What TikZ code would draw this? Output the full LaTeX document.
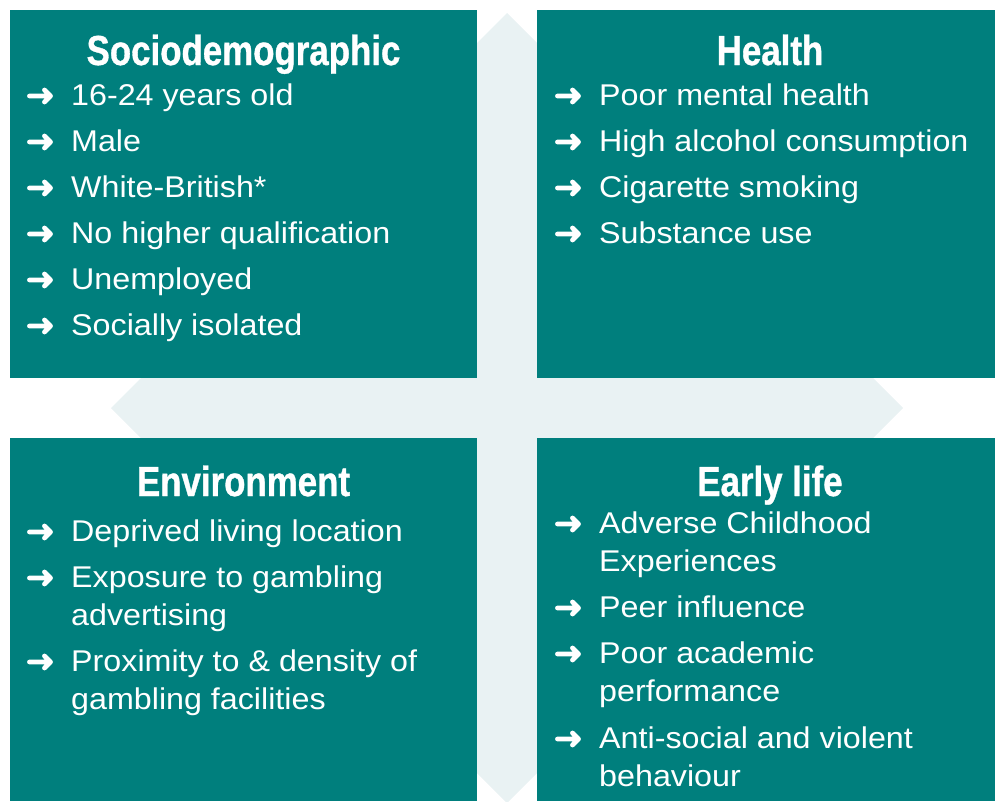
\documentclass[tikz,border=0pt]{standalone}
\usepackage{fontspec}
\setmainfont{Liberation Sans}
\newfontfamily\bodyfont[FakeStretch=1.075]{Liberation Sans}
\newfontfamily\titlefont[FakeStretch=0.83,FakeBold=0.8]{Liberation Sans}
\definecolor{boxteal}{RGB}{0,127,125}
\definecolor{crossfill}{RGB}{233,242,243}
\newcommand\riskitem[4]{%
  \pic at (#1-31,#2-7) {bul};
  \node[itm] (#3) at (#1,#2+2) {#4};}
\newcommand\riskitemii[5]{%
  \pic at (#1-31,#2-7) {bul};
  \node[itm] (#3) at (#1,#2+2) {#4};
  \node[itm] (#3b) at (#1,#2+40) {#5};}
\begin{document}
\begin{tikzpicture}[x=1pt,y=-1pt,
  box/.style={fill=boxteal, draw=none, inner sep=0pt, outer sep=0pt, anchor=north west},
  ttl/.style={text=white, font=\titlefont\bfseries\fontsize{42}{42}\selectfont, anchor=base, inner sep=0pt},
  itm/.style={text=white, font=\bodyfont\fontsize{30}{38}\selectfont, anchor=base west, inner sep=0pt},
  bul/.pic={\draw[white,line width=4.8pt,line cap=round,line join=round]
      (-10.5,0) -- (10.5,0) (4.5,-6) -- (10.5,0) -- (4.5,6);}]
\useasboundingbox (0,0) rectangle (995,801);
% background four-way arrow
\fill[crossfill] (507,13) -- (567,73) -- (537,73) -- (537,378) -- (843,378) -- (843,348)
  -- (903,408) -- (843,468) -- (843,438) -- (537,438) -- (537,743) -- (567,743)
  -- (507,803) -- (447,743) -- (477,743) -- (477,438) -- (171,438) -- (171,468)
  -- (111,408) -- (171,348) -- (171,378) -- (477,378) -- (477,73) -- (447,73) -- cycle;
% boxes
\node[box, minimum width=467pt, minimum height=368pt] (boxsoc) at (10,10) {};
\node[box, minimum width=458pt, minimum height=368pt] (boxhea) at (537,10) {};
\node[box, minimum width=467pt, minimum height=363pt] (boxenv) at (10,438) {};
\node[box, minimum width=458pt, minimum height=363pt] (boxear) at (537,438) {};
% titles
\node[ttl] (tsoc) at (243.5,65) {Sociodemographic};
\node[ttl] (thea) at (770,65) {Health};
\node[ttl] (tenv) at (243.5,496) {Environment};
\node[ttl] (tear) at (770,496) {Early life};
% Sociodemographic
\riskitem{71}{103}{s1}{16-24 years old}
\riskitem{71}{149}{s2}{Male}
\riskitem{71}{195}{s3}{White-British*}
\riskitem{71}{241}{s4}{No higher qualification}
\riskitem{71}{287}{s5}{Unemployed}
\riskitem{71}{333}{s6}{Socially isolated}
% Health
\riskitem{599}{103}{h1}{Poor mental health}
\riskitem{599}{149}{h2}{High alcohol consumption}
\riskitem{599}{195}{h3}{Cigarette smoking}
\riskitem{599}{241}{h4}{Substance use}
% Environment
\riskitem{71}{539}{e1}{Deprived living location}
\riskitemii{71}{585}{e2}{Exposure to gambling}{advertising}
\riskitemii{71}{669}{e3}{Proximity to \& density of}{gambling facilities}
% Early life
\riskitemii{599}{531}{l1}{Adverse Childhood}{Experiences}
\riskitem{599}{615}{l2}{Peer influence}
\riskitemii{599}{661}{l3}{Poor academic}{performance}
\riskitemii{599}{746}{l4}{Anti-social and violent}{behaviour}
\end{tikzpicture}
\end{document}
